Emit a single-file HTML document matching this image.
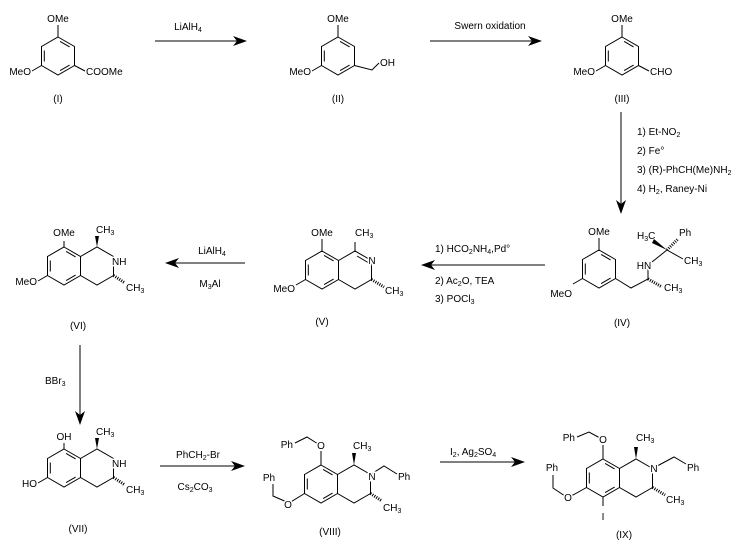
<!DOCTYPE html>
<html><head><meta charset="utf-8"><style>
html,body{margin:0;padding:0;background:#fff;}
svg{display:block;}
text{font-family:"Liberation Sans",Arial,sans-serif;font-size:10px;fill:#000;}
.l{stroke:#fff;stroke-width:3px;paint-order:stroke;}
line,polyline,polygon.r{stroke:#000;stroke-width:1;fill:none;}
.h{stroke:#000;stroke-width:3;stroke-dasharray:1,1.3;}
</style></head><body>
<svg width="736" height="549" viewBox="0 0 736 549" xmlns="http://www.w3.org/2000/svg">
<defs>
<g id="bz">
<polygon class="r" points="0,-19 16.5,-9.5 16.5,9.5 0,19 -16.5,9.5 -16.5,-9.5"/>
<line x1="2.1" y1="-14.6" x2="11.6" y2="-9.1"/>
<line x1="11.6" y1="9.1" x2="2.1" y2="14.6"/>
<line x1="-13.7" y1="5.5" x2="-13.7" y2="-5.5"/>
</g>
</defs>

<!-- I -->
<g transform="translate(58,56)">
<use href="#bz"/>
<line x1="0" y1="-19" x2="0" y2="-31"/>
<text x="0" y="-34" text-anchor="middle">OMe</text>
<line x1="-16.5" y1="9.5" x2="-26" y2="15"/>
<text x="-27" y="19" text-anchor="end">MeO</text>
<line x1="16.5" y1="9.5" x2="27" y2="15"/>
<text x="28" y="19">COOMe</text>
<text x="0" y="46" text-anchor="middle">(I)</text>
</g>
<line x1="155" y1="41" x2="240" y2="41"/>
<polygon points="247,41 233,36 237,41 233,46"/>
<text x="188" y="30" text-anchor="middle">LiAlH<tspan font-size="7" dy="2">4</tspan></text>

<!-- II -->
<g transform="translate(338,56)">
<use href="#bz"/>
<line x1="0" y1="-19" x2="0" y2="-31"/>
<text x="0" y="-34" text-anchor="middle">OMe</text>
<line x1="-16.5" y1="9.5" x2="-26" y2="15"/>
<text x="-27" y="19" text-anchor="end">MeO</text>
<polyline points="16.5,9.5 34,14 41,7"/>
<text x="42" y="10">OH</text>
<text x="0" y="46" text-anchor="middle">(II)</text>
</g>
<line x1="430" y1="41" x2="535" y2="41"/>
<polygon points="542,41 528,36 532,41 528,46"/>
<text x="490" y="29" text-anchor="middle">Swern oxidation</text>

<!-- III -->
<g transform="translate(622,56)">
<use href="#bz"/>
<line x1="0" y1="-19" x2="0" y2="-31"/>
<text x="0" y="-34" text-anchor="middle">OMe</text>
<line x1="-16.5" y1="9.5" x2="-26" y2="15"/>
<text x="-27" y="19" text-anchor="end">MeO</text>
<line x1="16.5" y1="9.5" x2="27" y2="15"/>
<text x="28" y="19">CHO</text>
<text x="0" y="46" text-anchor="middle">(III)</text>
</g>

<line x1="621" y1="112" x2="621" y2="207"/>
<polygon points="621,214 616,200 621,204 626,200"/>
<text x="637" y="135">1) Et-NO<tspan font-size="7" dy="2">2</tspan></text>
<text x="637" y="154">2) Fe°</text>
<text x="637" y="173">3) (R)-PhCH(Me)NH<tspan font-size="7" dy="2">2</tspan></text>
<text x="637" y="192">4) H<tspan font-size="7" dy="2">2</tspan><tspan dy="-2">, Raney-Ni</tspan></text>

<!-- IV -->
<g transform="translate(599,269)">
<use href="#bz"/>
<line x1="0" y1="-19" x2="0" y2="-31"/>
<text x="0" y="-34" text-anchor="middle">OMe</text>
<line x1="-16.5" y1="9.5" x2="-26" y2="15"/>
<text x="-27" y="28" text-anchor="end">MeO</text>
<polyline points="16.5,9.5 32,19 49,10 49,-2"/>
<line class="h" x1="49" y1="10" x2="63" y2="18"/>
<text x="65" y="22">CH<tspan font-size="7" dy="2">3</tspan></text>
<text x="45" y="0" text-anchor="middle" class="l">HN</text>
<line x1="53" y1="-7" x2="68" y2="-19"/>
<polygon points="68,-19 55,-30 53,-26"/>
<line class="h" x1="68" y1="-19" x2="79" y2="-30"/>
<line x1="68" y1="-19" x2="84" y2="-10"/>
<text x="38" y="-30">H<tspan font-size="7" dy="2">3</tspan><tspan dy="-2">C</tspan></text>
<text x="80" y="-33">Ph</text>
<text x="85" y="-5">CH<tspan font-size="7" dy="2">3</tspan></text>
<text x="23" y="57" text-anchor="middle">(IV)</text>
</g>

<line x1="428" y1="265" x2="545" y2="265"/>
<polygon points="421,265 435,260 431,265 435,270"/>
<text x="435" y="252">1) HCO<tspan font-size="7" dy="2">2</tspan><tspan dy="-2">NH</tspan><tspan font-size="7" dy="2">4</tspan><tspan dy="-2">,Pd°</tspan></text>
<text x="435" y="284">2) Ac<tspan font-size="7" dy="2">2</tspan><tspan dy="-2">O, TEA</tspan></text>
<text x="435" y="302">3) POCl<tspan font-size="7" dy="2">3</tspan></text>

<!-- V -->
<g transform="translate(322,270)">
<use href="#bz"/>
<polyline points="16.5,-9.5 33,-19 49.5,-9.5 49.5,9.5 33,19 16.5,9.5"/>
<line x1="35" y1="-14" x2="46" y2="-7.5"/>
<line x1="0" y1="-19" x2="0" y2="-31"/>
<text x="0" y="-34" text-anchor="middle">OMe</text>
<line x1="33" y1="-19" x2="33" y2="-28"/>
<text x="33" y="-34">CH<tspan font-size="7" dy="2">3</tspan></text>
<text x="50" y="-6" text-anchor="middle" class="l">N</text>
<line class="h" x1="49.5" y1="9.5" x2="62" y2="17"/>
<text x="63" y="24">CH<tspan font-size="7" dy="2">3</tspan></text>
<line x1="-16.5" y1="9.5" x2="-26" y2="15"/>
<text x="-27" y="22" text-anchor="end">MeO</text>
<text x="0" y="55" text-anchor="middle">(V)</text>
</g>

<line x1="172" y1="263" x2="245" y2="263"/>
<polygon points="165,263 179,258 175,263 179,268"/>
<text x="212" y="254" text-anchor="middle">LiAlH<tspan font-size="7" dy="2">4</tspan></text>
<text x="210" y="287" text-anchor="middle">M<tspan font-size="7" dy="2">3</tspan><tspan dy="-2">Al</tspan></text>

<!-- VI -->
<g transform="translate(64,266)">
<use href="#bz"/>
<polyline points="16.5,-9.5 33,-19 49.5,-9.5 49.5,9.5 33,19 16.5,9.5"/>
<line x1="0" y1="-19" x2="0" y2="-25"/>
<text x="0" y="-30" text-anchor="middle">OMe</text>
<polygon points="33,-19 31,-30 35,-30"/>
<text x="32" y="-33">CH<tspan font-size="7" dy="2">3</tspan></text>
<text x="48" y="-1" class="l">NH</text>
<line class="h" x1="49.5" y1="9.5" x2="61" y2="17"/>
<text x="62" y="25">CH<tspan font-size="7" dy="2">3</tspan></text>
<line x1="-16.5" y1="9.5" x2="-26" y2="15"/>
<text x="-27" y="19" text-anchor="end">MeO</text>
<text x="14" y="63" text-anchor="middle">(VI)</text>
</g>

<line x1="80" y1="345" x2="80" y2="418"/>
<polygon points="80,425 75,411 80,415 85,411"/>
<text x="45" y="384">BBr<tspan font-size="7" dy="2">3</tspan></text>

<!-- VII -->
<g transform="translate(64,468)">
<use href="#bz"/>
<polyline points="16.5,-9.5 33,-19 49.5,-9.5 49.5,9.5 33,19 16.5,9.5"/>
<line x1="0" y1="-19" x2="0" y2="-25"/>
<text x="0" y="-28" text-anchor="middle">OH</text>
<polygon points="33,-19 31,-30 35,-30"/>
<text x="32" y="-33">CH<tspan font-size="7" dy="2">3</tspan></text>
<text x="48" y="-1" class="l">NH</text>
<line class="h" x1="49.5" y1="9.5" x2="61" y2="17"/>
<text x="62" y="25">CH<tspan font-size="7" dy="2">3</tspan></text>
<line x1="-16.5" y1="9.5" x2="-26" y2="15"/>
<text x="-27" y="19" text-anchor="end">HO</text>
<text x="14" y="64" text-anchor="middle">(VII)</text>
</g>

<line x1="160" y1="466" x2="238" y2="466"/>
<polygon points="245,466 231,461 235,466 231,471"/>
<text x="198" y="458" text-anchor="middle">PhCH<tspan font-size="7" dy="2">2</tspan><tspan dy="-2">-Br</tspan></text>
<text x="195" y="490" text-anchor="middle">Cs<tspan font-size="7" dy="2">2</tspan><tspan dy="-2">CO</tspan><tspan font-size="7" dy="2">3</tspan></text>

<!-- VIII -->
<g transform="translate(321,484)">
<use href="#bz"/>
<polyline points="16.5,-9.5 33,-19 49.5,-9.5 49.5,9.5 33,19 16.5,9.5"/>
<line x1="0" y1="-19" x2="0" y2="-33"/>
<polyline points="-3,-40 -14,-47 -26,-41"/>
<text x="0" y="-35" text-anchor="middle" class="l">O</text>
<text x="-28" y="-36" text-anchor="end">Ph</text>
<polygon points="33,-19 31,-31 35,-31"/>
<text x="32" y="-35">CH<tspan font-size="7" dy="2">3</tspan></text>
<polyline points="49.5,-9.5 63,-18 76,-10"/>
<text x="51" y="-4" text-anchor="middle" class="l">N</text>
<text x="77" y="-4">Ph</text>
<line class="h" x1="49.5" y1="9.5" x2="61" y2="17"/>
<text x="62" y="27">CH<tspan font-size="7" dy="2">3</tspan></text>
<polyline points="-16.5,9.5 -32,19 -48,12 -48,0"/>
<text x="-33" y="24" text-anchor="middle" class="l">O</text>
<text x="-52" y="-3" text-anchor="middle">Ph</text>
<text x="9" y="51" text-anchor="middle">(VIII)</text>
</g>

<line x1="440" y1="462" x2="518" y2="462"/>
<polygon points="525,462 511,457 515,462 511,467"/>
<text x="450" y="455">I<tspan font-size="7" dy="2">2</tspan><tspan dy="-2">, Ag</tspan><tspan font-size="7" dy="2">2</tspan><tspan dy="-2">SO</tspan><tspan font-size="7" dy="2">4</tspan></text>

<!-- IX -->
<g transform="translate(603,478)">
<use href="#bz"/>
<polyline points="16.5,-9.5 33,-19 49.5,-9.5 49.5,9.5 33,19 16.5,9.5"/>
<line x1="0" y1="-19" x2="0" y2="-33"/>
<polyline points="-3,-40 -14,-46 -26,-41"/>
<text x="0" y="-35" text-anchor="middle" class="l">O</text>
<text x="-28" y="-37" text-anchor="end">Ph</text>
<polygon points="33,-19 31,-31 35,-31"/>
<text x="33" y="-37">CH<tspan font-size="7" dy="2">3</tspan></text>
<polyline points="49.5,-9.5 71,-21 83,-14"/>
<text x="51" y="-6" text-anchor="middle" class="l">N</text>
<text x="84" y="-7">Ph</text>
<line class="h" x1="49.5" y1="9.5" x2="62" y2="17"/>
<text x="63" y="25">CH<tspan font-size="7" dy="2">3</tspan></text>
<line x1="0" y1="19" x2="0" y2="28"/>
<text x="0" y="42" text-anchor="middle">I</text>
<polyline points="-16.5,9.5 -30,17 -38,18 -50,10 -50,-3"/>
<text x="-35" y="23" text-anchor="middle" class="l">O</text>
<text x="-51" y="-7" text-anchor="middle">Ph</text>
<text x="21" y="60" text-anchor="middle">(IX)</text>
</g>
</svg>
</body></html>
